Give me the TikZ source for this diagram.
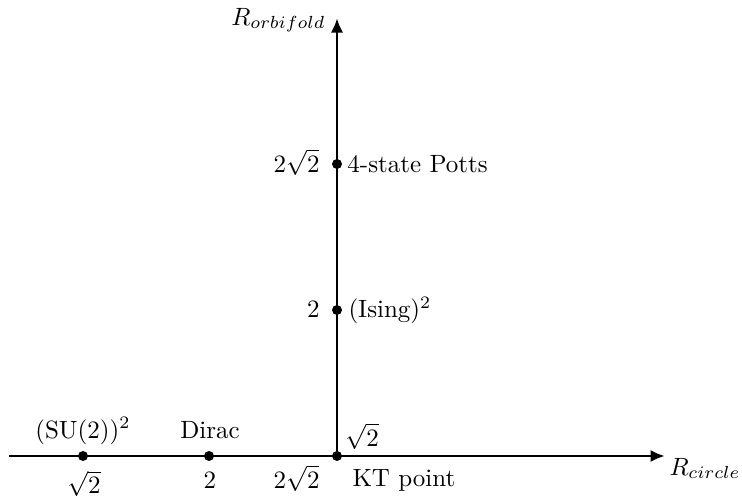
\documentclass[tikz,border=0pt]{standalone}
\usetikzlibrary{arrows.meta}
\begin{document}
\begin{tikzpicture}[x=0.4pt,y=-0.4pt,
  axis/.style={line width=1.15pt,-{Latex[length=5.8pt,width=4.9pt]}},
  pt/.style={circle,fill=black,inner sep=0pt,minimum size=4pt},
  lbl/.style={inner sep=0pt}]
\useasboundingbox (0,0) rectangle (742,500);
\coordinate (xl) at (9,456);
\coordinate (xr) at (665,456);
\coordinate (o) at (337,456);
\coordinate (yt) at (337,18);
\draw[axis] (xl) -- (xr);
\draw[axis] (o) -- (yt);
\node[pt] (su) at (83,456) {};
\node[pt] (di) at (209,456) {};
\node[pt] (kt) at (337,456) {};
\node[pt] (is) at (337,310) {};
\node[pt] (po) at (337,164) {};
% labels
\node[lbl,anchor=base] (lsu) at (83,438) {(SU(2))$^2$};
\node[lbl,anchor=base] (ldi) at (210,438) {Dirac};
\node[lbl,anchor=north] (vsu) at (84,470) {$\sqrt{2}$};
\node[lbl,anchor=base] (vdi) at (210,488) {$2$};
\node[lbl,anchor=base east] (vkt) at (320,488) {$2\sqrt{2}$};
\node[lbl,anchor=base west] (lkt) at (352,486) {KT point};
\node[lbl,anchor=base west] (vkty) at (345,446) {$\sqrt{2}$};
\node[lbl,anchor=base east] (vis) at (320,318) {$2$};
\node[lbl,anchor=base west] (lis) at (348,318) {(Ising)$^2$};
\node[lbl,anchor=base east] (vpo) at (320,172) {$2\sqrt{2}$};
\node[lbl,anchor=base west] (lpo) at (347,172) {4-state Potts};
\node[lbl,anchor=base west] (rc) at (669,475) {$R_{circle}$};
\node[lbl,anchor=base east] (ro) at (326,25) {$R_{orbifold}$};
\end{tikzpicture}
\end{document}
